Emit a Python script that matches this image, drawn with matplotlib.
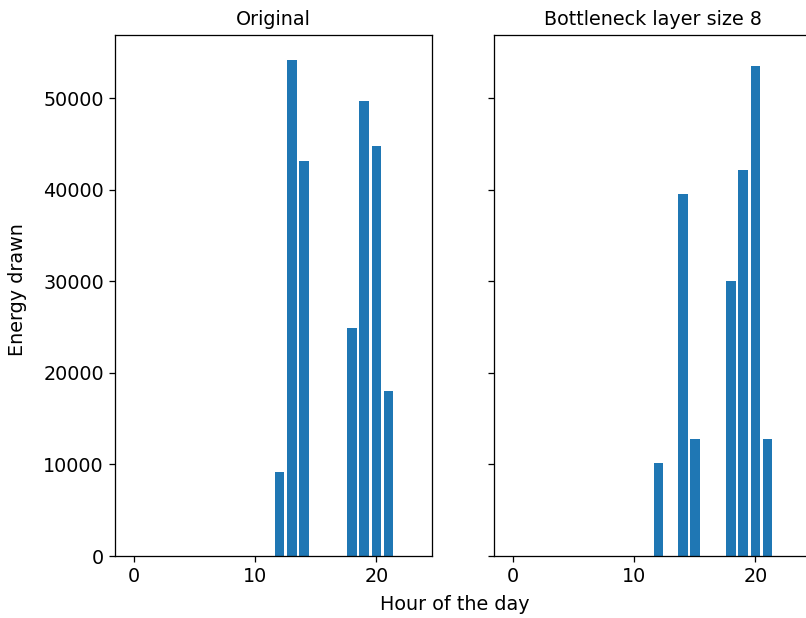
import numpy as np
import matplotlib
matplotlib.use('Agg')
import matplotlib.pyplot as plt

# Hours of the day and energy drawn per hour
hours = list(range(24))
original = [0, 0, 0, 0, 0, 0, 0, 0, 0, 0, 0, 0,
            9170, 54200, 43200, 0, 0, 0, 24900, 49700, 44750, 18000, 0, 0]
bottleneck = [0, 0, 0, 0, 0, 0, 0, 0, 0, 0, 0, 0,
              10150, 0, 39500, 12770, 0, 0, 30000, 42150, 53500, 12770, 0, 0]
titles = ["Original", "Bottleneck layer size 8"]

plt.rcParams['font.size'] = 12

dpi = 115
fig, axes = plt.subplots(1, 2, sharey=True, figsize=(806 / dpi, 618 / dpi), dpi=dpi)
fig.subplots_adjust(left=115 / 806, right=811 / 806, bottom=1 - 556 / 618,
                    top=1 - 35 / 618, wspace=62 / 317)

for ax, values, title in zip(axes, [original, bottleneck], titles):
    ax.bar(hours, values)
    ax.set_title(title, fontsize=12)

# shared axis labels placed on the figure
fig.text(18 / 806, 1 - 290 / 618, "Energy drawn", rotation=90, ha='center', va='center')
fig.text(455 / 806, 1 - 604 / 618, "Hour of the day", ha='center', va='center')

fig.savefig("out.png", dpi=dpi)
